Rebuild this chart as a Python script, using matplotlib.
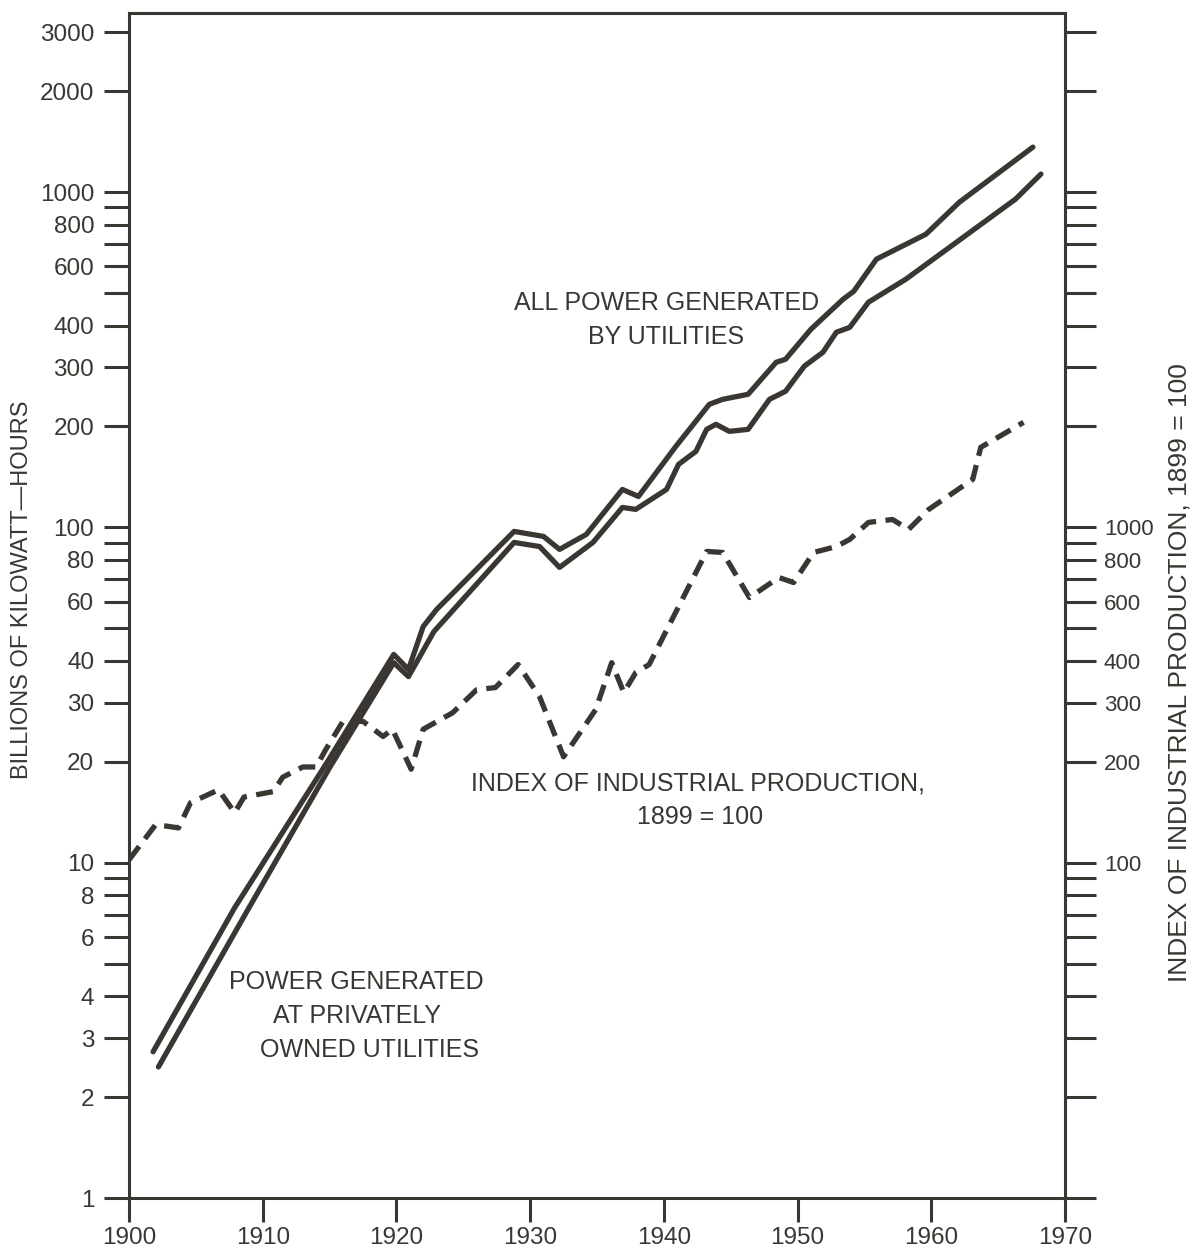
import matplotlib.pyplot as plt

plt.rcParams['font.family'] = ['Liberation Sans', 'DejaVu Sans']
ink = '#3a3632'

# all power generated by utilities (billions of kWh)
all_years = [1901.8, 1907.9, 1914.7, 1919.8, 1920.9, 1922.0, 1923.0, 1923.9, 1928.8,
             1931.0, 1932.2, 1934.2, 1936.9, 1938.1, 1940.9, 1943.4, 1944.4, 1946.3,
             1948.4, 1949.1, 1951.0, 1953.4, 1954.2, 1955.9, 1959.6, 1962.1, 1967.6]
all_kwh = [2.73, 7.34, 19.6, 41.8, 37.7, 50.6, 56.9, 61.8, 97.3,
           94.0, 86.0, 95.3, 129.8, 123.7, 174.5, 232.9, 241, 249.5,
           310.8, 317.3, 390, 479, 506, 631, 749, 933, 1362]

# power generated at privately owned utilities
priv_years = [1902.2, 1908.8, 1915.0, 1919.8, 1920.9, 1922.8, 1928.8, 1930.7, 1932.2,
              1934.7, 1936.9, 1937.9, 1940.2, 1941.1, 1942.4, 1943.2, 1943.9, 1944.9,
              1946.3, 1947.9, 1949.1, 1950.5, 1951.9, 1952.9, 1953.9, 1955.3, 1958.1,
              1966.3, 1968.2]
priv_kwh = [2.46, 7.14, 19.2, 39.5, 35.9, 48.9, 90.2, 87.7, 76.0,
            90.2, 114.7, 113.2, 129.8, 154.2, 168.6, 196.1, 203, 193.4,
            196.1, 241, 254.7, 302.5, 333, 382, 395, 469.5, 550,
            953, 1132]

# index of industrial production, 1899 = 100
ipi_years = [1900.0, 1902.0, 1903.7, 1904.6, 1906.7, 1907.9, 1908.6, 1910.8, 1911.5,
             1913.0, 1914.0, 1914.7, 1916.0, 1917.5, 1919.0, 1919.7, 1921.1, 1922.0,
             1924.2, 1926.0, 1927.4, 1929.1, 1930.7, 1932.5, 1934.9, 1936.1, 1937.0,
             1937.9, 1938.9, 1943.2, 1944.4, 1946.4, 1948.6, 1949.7, 1951.2, 1952.9,
             1953.9, 1955.3, 1957.1, 1958.3, 1959.8, 1963.1, 1963.7, 1966.9]
ipi = [102, 130, 127, 151, 165, 141, 157, 163, 180,
       193, 193, 217, 264, 264, 238, 250, 190, 250,
       280, 328, 333, 390, 313, 207, 286, 395, 322,
       369, 390, 848, 842, 618, 709, 685, 842, 877,
       921, 1035, 1056, 986, 1131, 1391, 1733, 2058]

left_ticks = [1, 2, 3, 4, 5, 6, 7, 8, 9, 10, 20, 30, 40, 50, 60, 70, 80, 90,
              100, 200, 300, 400, 500, 600, 700, 800, 900, 1000, 2000, 3000]
left_labels = ['1', '2', '3', '4', '', '6', '', '8', '', '10', '20', '30', '40', '',
               '60', '', '80', '', '100', '200', '300', '400', '', '600', '', '800',
               '', '1000', '2000', '3000']
right_ticks = [t * 10 for t in left_ticks]
right_labels = ['' for t in right_ticks]
for i, t in enumerate(right_ticks):
    if t in (100, 200, 300, 400, 600, 800, 1000):
        right_labels[i] = str(t)
x_ticks = [1900, 1910, 1920, 1930, 1940, 1950, 1960, 1970]

fig = plt.figure(figsize=(12, 12.55), dpi=100)
ax = fig.add_axes([0.1075, 0.0454, 0.78, 0.9442])
ax.set_yscale('log')
ax.set_xlim(1900, 1970)
ax.set_ylim(1, 3420)

ax.plot(all_years, all_kwh, color=ink, lw=3.8, solid_joinstyle='round', solid_capstyle='round')
ax.plot(priv_years, priv_kwh, color=ink, lw=3.8, solid_joinstyle='round', solid_capstyle='round')

ax.set_yticks(left_ticks, left_labels)
ax.set_yticks([], minor=True)
ax.set_xticks(x_ticks, [str(x) for x in x_ticks])
ax.tick_params(axis='y', direction='out', length=18, width=2.2, color=ink,
               labelsize=17.5, labelcolor=ink, pad=7)
ax.tick_params(axis='x', direction='out', length=17, width=2.2, color=ink,
               labelsize=17.5, labelcolor=ink, pad=4)
for s in ax.spines.values():
    s.set_linewidth(2.2)
    s.set_color(ink)

ax2 = ax.twinx()
ax2.set_yscale('log')
ax2.set_ylim(10, 34200)
ax2.plot(ipi_years, ipi, color=ink, lw=3.8, ls=(0, (3.2, 1.8)))
ax2.set_yticks(right_ticks, right_labels)
ax2.set_yticks([], minor=True)
ax2.tick_params(axis='y', direction='out', length=22, width=2.2, color=ink,
                labelsize=16, labelcolor=ink, pad=6)
for s in ax2.spines.values():
    s.set_visible(False)

txt = dict(fontsize=18, color=ink, ha='center', va='center')
fig.text(667 / 1200, 1 - 303 / 1255, 'ALL POWER GENERATED', **txt)
fig.text(666 / 1200, 1 - 337 / 1255, 'BY UTILITIES', **txt)
fig.text(698 / 1200, 1 - 783 / 1255, 'INDEX OF INDUSTRIAL PRODUCTION,', **txt)
fig.text(700 / 1200, 1 - 817 / 1255, '1899 = 100', **txt)
fig.text(356 / 1200, 1 - 982 / 1255, 'POWER GENERATED', **txt)
fig.text(357 / 1200, 1 - 1016 / 1255, 'AT PRIVATELY', **txt)
fig.text(370 / 1200, 1 - 1050 / 1255, 'OWNED UTILITIES', **txt)

fig.text(22 / 1200, 1 - 590 / 1255, 'BILLIONS OF KILOWATT\u2014HOURS', rotation=90,
         fontsize=17, color=ink, ha='center', va='center')
fig.text(1180 / 1200, 1 - 673 / 1255, 'INDEX OF INDUSTRIAL PRODUCTION, 1899 = 100',
         rotation=90, fontsize=19, color=ink, ha='center', va='center')

fig.savefig('out.png', dpi=100, facecolor='white')
